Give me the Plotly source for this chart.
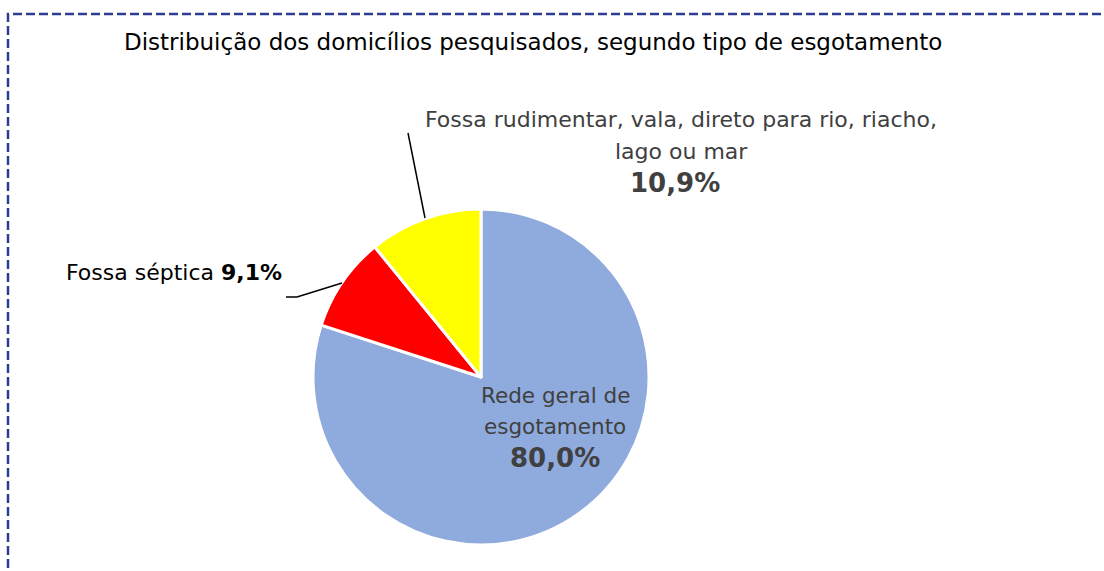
import plotly.graph_objects as go

W, H = 1104, 571

categories = ["Rede geral de esgotamento", "Fossa séptica",
              "Fossa rudimentar, vala, direto para rio, riacho, lago ou mar"]
values = [80.0, 9.1, 10.9]
colors = ["#8FAADC", "#FF0000", "#FFFF00"]
title = "Distribuição dos domicílios pesquisados, segundo tipo de esgotamento"

FONT = "DejaVu Sans, sans-serif"

def px(x):
    return x / W

def py(y):
    return 1 - y / H

def fmt(v):
    return f"{v:.1f}".replace(".", ",") + "%"

# pie geometry (pixels)
cx, cy, r = 481, 377, 168

fig = go.Figure(go.Pie(
    labels=categories, values=values, sort=False, direction="clockwise",
    rotation=0, textinfo="none", hoverinfo="label+percent",
    marker=dict(colors=colors, line=dict(color="white", width=3)),
    domain=dict(x=[px(cx - r), px(cx + r)], y=[py(cy + r), py(cy - r)]),
    showlegend=False,
))

def ann(x, y, text, size, color, xanchor="center"):
    return dict(x=px(x), y=py(y), text=text, showarrow=False,
                font=dict(size=size, color=color, family=FONT),
                xanchor=xanchor, yanchor="middle")

GRAY = "#404040"
annotations = [
    ann(533, 42, title, 23, "black"),
    # Rede geral
    ann(555, 395, "Rede geral de", 21.5, GRAY),
    ann(555, 426, "esgotamento", 21.5, GRAY),
    ann(555, 458, "<b>" + fmt(values[0]) + "</b>", 26, GRAY),
    # Fossa séptica
    ann(174, 272, "Fossa séptica <b>" + fmt(values[1]) + "</b>", 22, "black"),
    # Fossa rudimentar
    ann(681, 120, "Fossa rudimentar, vala, direto para rio, riacho,", 22, GRAY),
    ann(681, 151, "lago ou mar", 22, GRAY),
    ann(675, 183, "<b>" + fmt(values[2]) + "</b>", 26, GRAY),
]

shapes = [
    # dashed frame
    dict(type="rect", xref="paper", yref="paper",
         x0=px(8), x1=px(W + 20), y0=py(H + 20), y1=py(14),
         line=dict(color="#2E3D92", width=2.5, dash="9px,4px")),
    # leader for Fossa séptica
    dict(type="path", xref="paper", yref="paper",
         path=f"M {px(286)} {py(297)} L {px(297)} {py(297)} L {px(342)} {py(283)}",
         line=dict(color="black", width=1.5)),
    # leader for Fossa rudimentar
    dict(type="line", xref="paper", yref="paper",
         x0=px(408), y0=py(133), x1=px(425), y1=py(218),
         line=dict(color="black", width=1.5)),
]

fig.update_layout(
    width=W, height=H, margin=dict(l=0, r=0, t=0, b=0),
    paper_bgcolor="white", plot_bgcolor="white",
    annotations=annotations, shapes=shapes,
)

fig.write_html("out.html")
